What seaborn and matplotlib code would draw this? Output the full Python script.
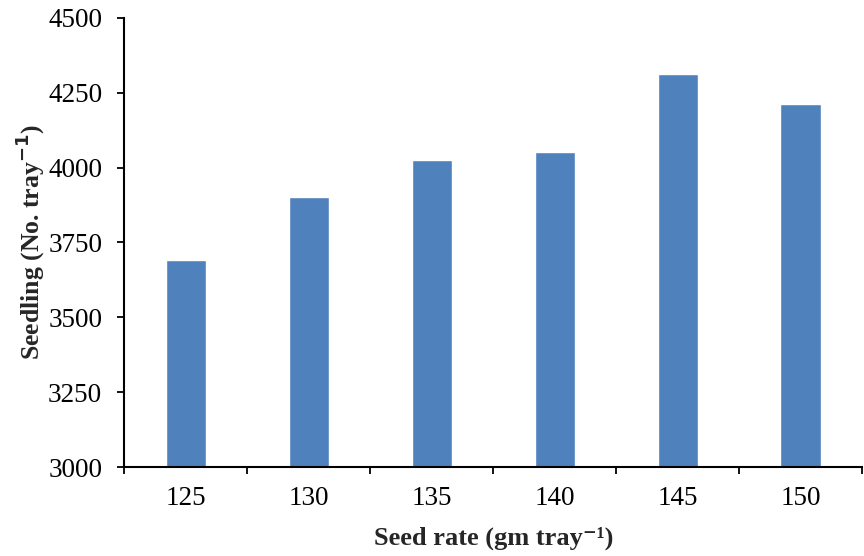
import seaborn as sns
import matplotlib.pyplot as plt
import pandas as pd

seed_rate = ['125', '130', '135', '140', '145', '150']
seedling = [3690, 3900, 4026, 4052, 4313, 4213]

df = pd.DataFrame({'rate': seed_rate, 'seedling': seedling})

sns.set_theme(style="ticks")
plt.rcParams['font.family'] = ['Liberation Serif', 'DejaVu Serif']

fig, ax = plt.subplots(figsize=(8.64, 5.56), dpi=100)
sns.barplot(data=df, x='rate', y='seedling', color='#4F81BD', width=0.33,
            saturation=1, ax=ax)

ax.set_ylim(3000, 4500)
ax.set_yticks(range(3000, 4501, 250))
ax.set_xlim(-0.5, 5.5)
ax.set_xticks([i - 0.5 for i in range(7)], minor=True)
ax.tick_params(axis='x', which='major', length=0, pad=14, labelsize=19.5, colors='black')
ax.tick_params(axis='x', which='minor', length=5, width=1.3, color='black')
ax.tick_params(axis='y', length=5, width=1.3, labelsize=19.5, colors='black', pad=11)

ax.set_xlabel('Seed rate (gm tray⁻¹)', fontsize=19, fontweight='bold', labelpad=11)
ax.set_ylabel('Seedling (No. tray$^{\\mathbf{-1}}$)', fontsize=18.5, fontweight='bold', labelpad=1)

for s in ['top', 'right']:
    ax.spines[s].set_visible(False)
for s in ['left', 'bottom']:
    ax.spines[s].set_linewidth(1.5)
    ax.spines[s].set_color('black')

plt.subplots_adjust(left=0.144, right=0.998, top=0.968, bottom=0.16)
plt.savefig('out.png', dpi=100)
